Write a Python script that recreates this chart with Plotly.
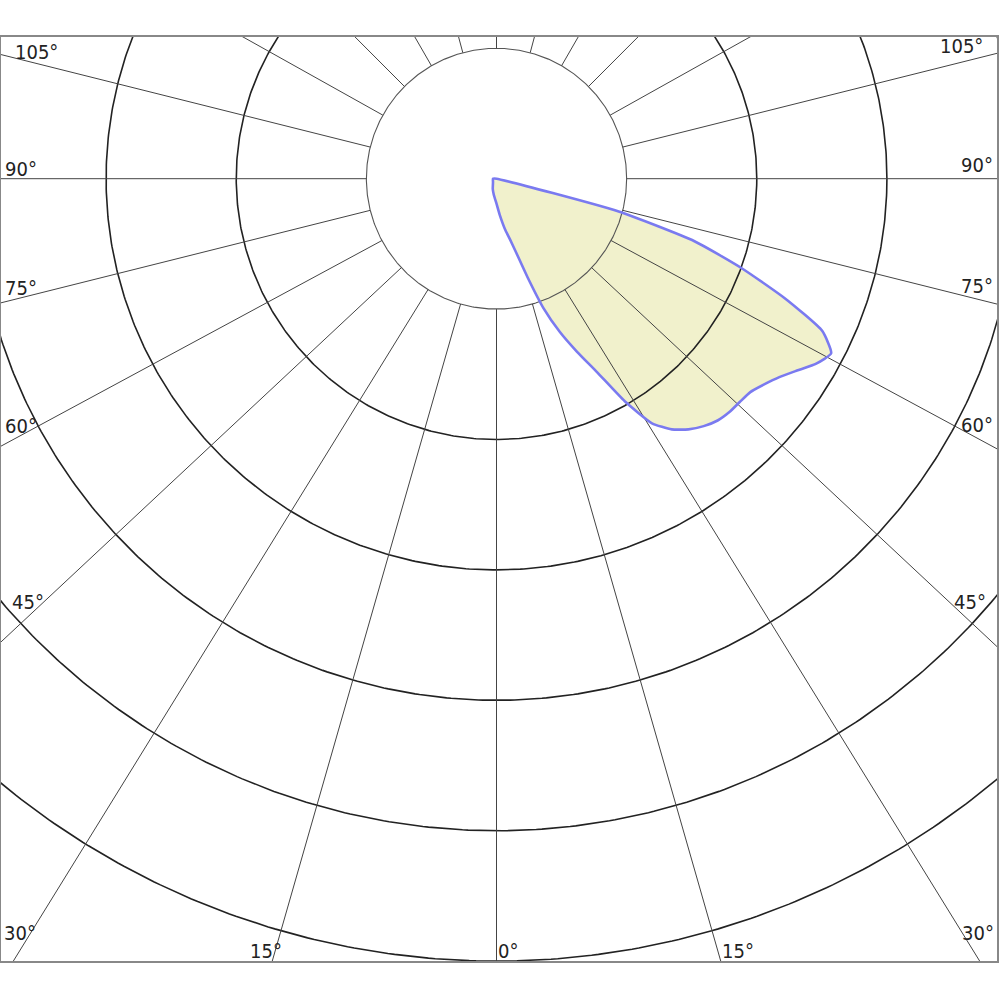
import numpy as np
import plotly.graph_objects as go

# ---------------- data ----------------
# luminous intensity distribution (angle from nadir in degrees, + = right side)
ANGLES = [-90, -45, -20, -10, 0, 5, 10, 12.5, 15, 17.5, 20, 22.5, 25, 27.5, 30,
          32.5, 35, 37.5, 40, 42.5, 45, 47.5, 50, 52.5, 55, 57.5, 60, 62.5,
          65, 67.5, 70, 72.5, 75, 77.5]
INTENSITY = [2.7, 3.8, 8.4, 12.3, 19.2, 27.6, 40.6, 47.5, 59.0, 79.0, 105.8,
             127.3, 146.5, 167.2, 197.1, 222.4, 234.7, 242.3, 247.7, 251.5,
             253.1, 253.5, 254.6, 259.2, 265.3, 273.8, 283.7, 289.9, 276.1,
             240.0, 200.2, 159.5, 96.6, 0.0]
RING_VALUES = [100, 200, 300, 400, 500, 600]
RAY_ANGLES = [0, 15, 30, 45, 60, 75, 90, 105, 120, 135, 150, 165, 180]
LABEL_ANGLES = [0, 15, 30, 45, 60, 75, 90, 105]

# ---------------- geometry / style ----------------
W = H = 1000
CX, CY = 497.5, 178.7          # pixel position of the pole
K = 1.304                       # pixels per intensity unit
FRAME = dict(l=1, r=999, t=37, b=961)
RAY_Y = 0.933                   # vertical compression of the lower radial grid lines
FONT = "DejaVu Sans Condensed, Liberation Sans Narrow, DejaVu Sans"
LABEL_INSET = {105: 12, 45: 9}  # px from frame edge (default 2)
LABEL_LIFT = {45: 7}            # extra px lift


def X(px):
    return (px - CX) / K


def Y(py):
    return (CY - py) / K


fig = go.Figure()

# filled distribution
th = np.radians(ANGLES)
r = np.array(INTENSITY)
cx = r * np.sin(th)
cy = -r * np.cos(th)
fig.add_trace(go.Scatter(x=cx, y=cy, mode="lines", fill="toself",
                         fillcolor="rgb(241,241,204)",
                         line=dict(width=0, shape="spline", smoothing=0.5),
                         hoverinfo="skip", showlegend=False))

# circles
t = np.linspace(0, 2 * np.pi, 721)
for i, rv in enumerate(RING_VALUES):
    fig.add_trace(go.Scatter(x=rv * np.cos(t), y=rv * np.sin(t), mode="lines",
                             line=dict(color="#555" if i == 0 else "#222",
                                       width=1.1 if i == 0 else 1.6),
                             hoverinfo="skip", showlegend=False))


# rays
def ray_dir(a, side):
    f = RAY_Y + (1 - RAY_Y) * np.clip((a - 105) / 30.0, 0, 1)
    d = np.array([side * np.sin(np.radians(a)), -f * np.cos(np.radians(a))])
    return d / np.hypot(*d)


for a in RAY_ANGLES:
    sides = [1] if a in (0, 180) else [-1, 1]
    for s in sides:
        d = ray_dir(a, s)
        p0 = RING_VALUES[0] * d
        p1 = 3000 * d
        fig.add_trace(go.Scatter(x=[p0[0], p1[0]], y=[p0[1], p1[1]], mode="lines",
                                 line=dict(color="#444", width=1),
                                 hoverinfo="skip", showlegend=False))

# outline
fig.add_trace(go.Scatter(x=np.append(cx, cx[0]), y=np.append(cy, cy[0]), mode="lines",
                         line=dict(color="rgb(122,122,240)", width=2.6,
                                   shape="spline", smoothing=0.5),
                         hoverinfo="skip", showlegend=False))

# angle labels
ann = []
for a in LABEL_ANGLES:
    for s in ([1] if a == 0 else [-1, 1]):
        d = ray_dir(a, s)
        txt = f"{a}°"
        if a >= 45:
            inset = LABEL_INSET.get(a, 2)
            xe = X(FRAME["l"] + inset) if s < 0 else X(FRAME["r"] - inset)
            xc = X(FRAME["l"] + inset + 16) if s < 0 else X(FRAME["r"] - inset - 16)
            yr = d[1] / d[0] * xc
            ann.append(dict(x=xe, y=yr,
                            xanchor="left" if s < 0 else "right", yanchor="bottom",
                            yshift=-4 + LABEL_LIFT.get(a, 0) + (4 if s > 0 else 0),
                            text=txt))
        elif a == 30:
            ann.append(dict(x=X(FRAME["l"] + 1) if s < 0 else X(FRAME["r"] - 1),
                            y=Y(FRAME["b"]),
                            xanchor="left" if s < 0 else "right", yanchor="bottom",
                            yshift=14, text=txt))
        else:
            yb = Y(FRAME["b"])
            xr = d[0] / d[1] * yb
            ann.append(dict(x=xr, y=yb,
                            xanchor="left" if s > 0 else "right", yanchor="bottom",
                            xshift=-1 if s > 0 else 12, yshift=-4, text=txt))
for a_ in ann:
    a_.update(xref="x", yref="y", showarrow=False,
              font=dict(family=FONT, size=20, color="#222"))

fig.update_layout(
    width=W, height=H,
    margin=dict(l=FRAME["l"], r=W - FRAME["r"], t=FRAME["t"], b=H - FRAME["b"], pad=0),
    paper_bgcolor="white", plot_bgcolor="white",
    annotations=ann,
    xaxis=dict(range=[X(FRAME["l"]), X(FRAME["r"])], showgrid=False, zeroline=False,
               showticklabels=False, ticks="", showline=True, mirror=True,
               linecolor="#888", linewidth=1.5, fixedrange=True),
    yaxis=dict(range=[Y(FRAME["b"]), Y(FRAME["t"])], showgrid=False, zeroline=False,
               showticklabels=False, ticks="", showline=True, mirror=True,
               linecolor="#888", linewidth=1.5, fixedrange=True),
)

fig.write_html("out.html", config={"displayModeBar": False},
               post_script="document.body.style.margin='0';")
